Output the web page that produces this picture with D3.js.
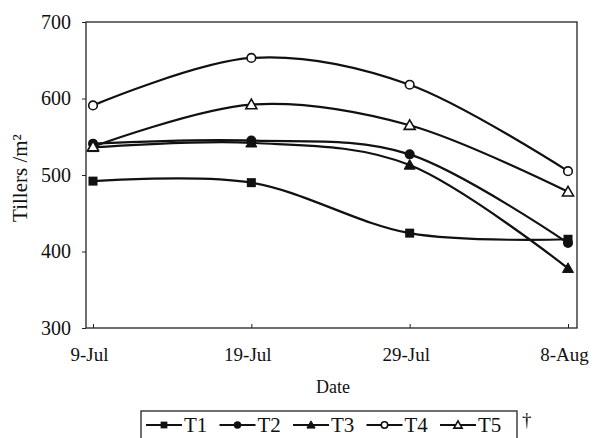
<!DOCTYPE html>
<head>
  <meta charset="utf-8">
  <script src="https://d3js.org/d3.v7.min.js"></script>
  <style>
    body { margin:0; background:#fff; }
    text { font-family: "Liberation Serif", "DejaVu Serif", serif; fill:#111; }
    .line { fill:none; stroke:#111; stroke-width:2.2; }
  </style>
</head>
<body>
  <script>
  // ---------- data ----------
    var dates = ["9-Jul", "19-Jul", "29-Jul", "8-Aug"];
    var seriesNames = ["T1", "T2", "T3", "T4", "T5"];
    var t1 = [492, 490, 424, 416];
    var t2 = [541, 545, 527, 411];
    var t3 = [536, 542, 513, 378];
    var t4 = [591, 653, 618, 505];
    var t5 = [537, 592, 565, 478];
    var yTicks = [300, 400, 500, 600, 700];
    var markers = ["square", "circle", "triangle", "ocircle", "otriangle"];
    var values = [t1, t2, t3, t4, t5];

  // ---------- svg ----------
    var svg = d3.select("body").append("svg")
      .attr("width", 595)
      .attr("height", 438);

    var plot = { left: 86, right: 577, top: 22, bottom: 328 };

    var x = d3.scalePoint()
      .domain(dates)
      .range([93, 568]);

    var y = d3.scaleLinear()
      .domain([300, 700])
      .range([plot.bottom, plot.top]);

    // frame
    svg.append("rect")
      .attr("x", plot.left)
      .attr("y", plot.top)
      .attr("width", plot.right - plot.left)
      .attr("height", plot.bottom - plot.top)
      .attr("fill", "none")
      .attr("stroke", "#222")
      .attr("stroke-width", 1.3);

    // y axis
    var yAxis = svg.append("g")
      .attr("transform", "translate(" + plot.left + ",0)")
      .call(d3.axisLeft(y).tickValues(yTicks).tickSize(4).tickPadding(11));
    yAxis.select(".domain").remove();
    yAxis.selectAll("line").attr("stroke", "#222");
    yAxis.selectAll("text").style("font-size", "20px");

    // x axis
    var xAxis = svg.append("g")
      .attr("transform", "translate(0," + plot.bottom + ")")
      .call(d3.axisBottom(x).tickSize(-4).tickPadding(0));
    xAxis.select(".domain").remove();
    xAxis.selectAll("line").attr("stroke", "#222");
    xAxis.selectAll("text")
      .style("font-size", "19px")
      .attr("y", 20)
      .attr("dx", -4);

    // axis titles
    svg.append("text")
      .attr("x", 333)
      .attr("y", 393)
      .attr("text-anchor", "middle")
      .style("font-size", "18px")
      .text("Date");

    svg.append("text")
      .attr("transform", "translate(27,178) rotate(-90)")
      .attr("text-anchor", "middle")
      .style("font-size", "21px")
      .text("Tillers /m²");

    // ---------- lines ----------
    var line = d3.line()
      .x(function(d, i) { return x(dates[i]); })
      .y(function(d) { return y(d); })
      .curve(d3.curveCatmullRom.alpha(0));

    values.forEach(function(vals, s) {
      svg.append("path")
        .attr("class", "line")
        .attr("d", line(vals));
      vals.forEach(function(v, i) {
        drawMarker(svg, markers[s], x(dates[i]), y(v), 1);
      });
    });

    function drawMarker(g, type, cx, cy, k) {
      if (type == "square") {
        g.append("rect")
          .attr("x", cx - 4.5 * k).attr("y", cy - 4.5 * k)
          .attr("width", 9 * k).attr("height", 9 * k)
          .attr("fill", "#111");
      } else if (type == "circle") {
        g.append("circle")
          .attr("cx", cx).attr("cy", cy).attr("r", 5 * k)
          .attr("fill", "#111");
      } else if (type == "ocircle") {
        g.append("circle")
          .attr("cx", cx).attr("cy", cy).attr("r", 4.3 * k)
          .attr("fill", "#fff").attr("stroke", "#111").attr("stroke-width", 1.6);
      } else {
        var s = 5.5 * k;
        var pts = [[cx, cy - s], [cx - s, cy + s * 0.75], [cx + s, cy + s * 0.75]];
        g.append("polygon")
          .attr("points", pts.map(function(p) { return p.join(","); }).join(" "))
          .attr("fill", type == "triangle" ? "#111" : "#fff")
          .attr("stroke", "#111")
          .attr("stroke-width", type == "triangle" ? 1 : 1.6);
      }
    }

    // ---------- legend ----------
    var legend = svg.append("g");
    legend.append("rect")
      .attr("x", 141)
      .attr("y", 411)
      .attr("width", 376)
      .attr("height", 40)
      .attr("fill", "none")
      .attr("stroke", "#222")
      .attr("stroke-width", 1.3);

    var itemX = d3.scalePoint()
      .domain(seriesNames)
      .range([146, 440]);

    seriesNames.forEach(function(name, s) {
      var lx = itemX(name);
      legend.append("line")
        .attr("x1", lx).attr("x2", lx + 36)
        .attr("y1", 425).attr("y2", 425)
        .attr("stroke", "#111").attr("stroke-width", 2);
      drawMarker(legend, markers[s], lx + 18, 425, 0.75);
      legend.append("text")
        .attr("x", lx + 38)
        .attr("y", 432)
        .style("font-size", "21px")
        .text(name);
    });

    svg.append("text")
      .attr("x", 522)
      .attr("y", 426)
      .style("font-size", "19px")
      .text("†");
  </script>
</body>
